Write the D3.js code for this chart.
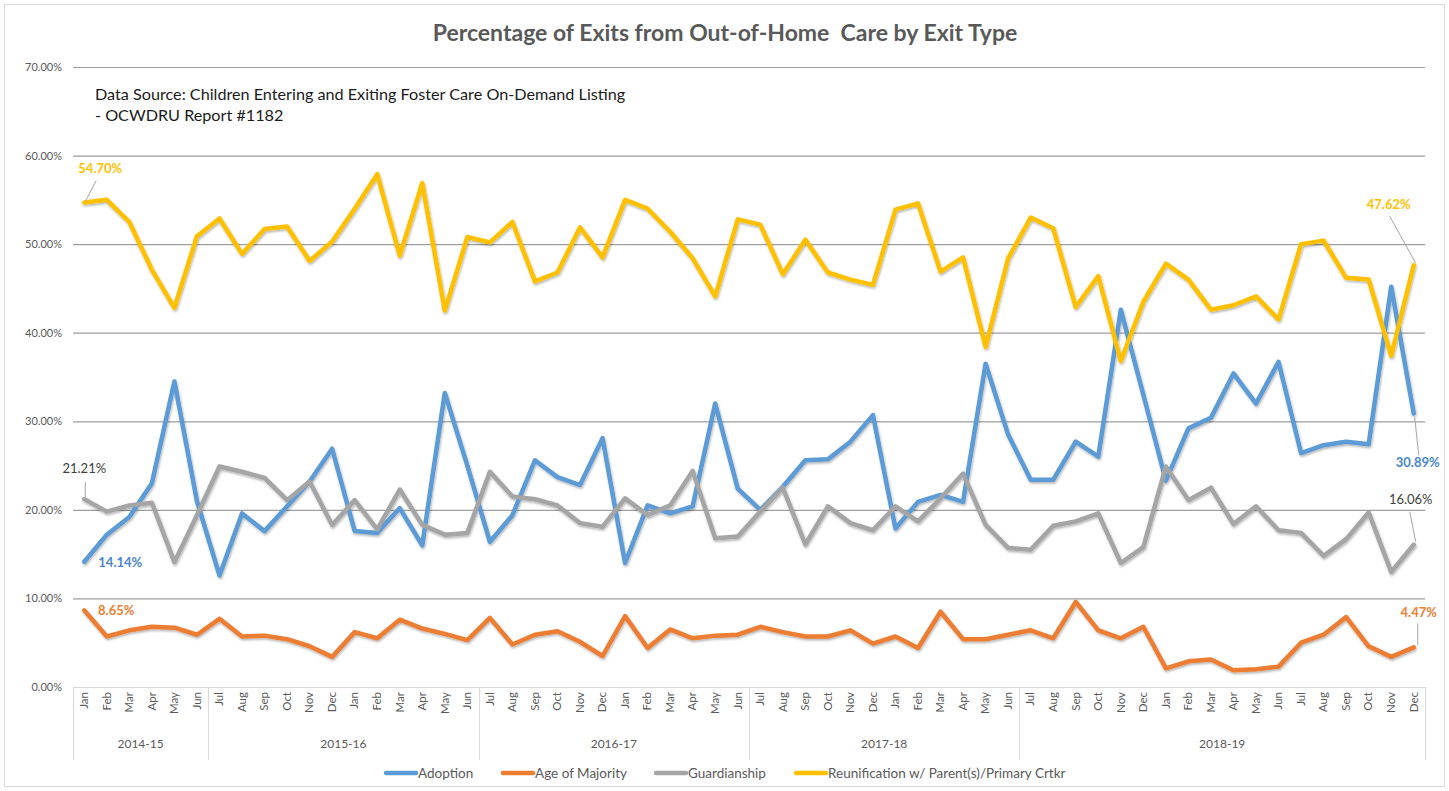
<!DOCTYPE html>
<html>
<head>
<meta charset="utf-8">
<script src="https://cdn.jsdelivr.net/npm/d3@7"></script>
<style>
  html, body { margin: 0; padding: 0; background: #fff; }
  svg { display: block; font-family: Lato, "Open Sans", "Liberation Sans", sans-serif; }
</style>
</head>
<body>
<svg id="chart" width="1449" height="791"></svg>
<script>
// Monthly exits from out-of-home care, Jan 2015 – Dec 2019, by exit type (%)
const months = [
  "Jan","Feb","Mar","Apr","May","Jun",
  "Jul","Aug","Sep","Oct","Nov","Dec","Jan","Feb","Mar","Apr","May","Jun",
  "Jul","Aug","Sep","Oct","Nov","Dec","Jan","Feb","Mar","Apr","May","Jun",
  "Jul","Aug","Sep","Oct","Nov","Dec","Jan","Feb","Mar","Apr","May","Jun",
  "Jul","Aug","Sep","Oct","Nov","Dec","Jan","Feb","Mar","Apr","May","Jun",
  "Jul","Aug","Sep","Oct","Nov","Dec"
];
const fiscalYears = ["2014-15","2015-16","2016-17","2017-18","2018-19"];
const monthsPerYear = [6, 12, 12, 12, 18];

const seriesNames = ["Adoption","Age of Majority","Guardianship","Reunification w/ Parent(s)/Primary Crtkr"];

const adoption = [
  14.14,17.2,19.2,23.0,34.5,21.0,
  12.6,19.6,17.6,20.4,23.2,26.9,17.6,17.4,20.2,16.0,33.2,25.0,
  16.4,19.4,25.6,23.7,22.8,28.1,14.0,20.5,19.6,20.4,32.0,22.4,
  20.0,22.6,25.6,25.7,27.7,30.7,17.9,20.9,21.7,20.9,36.5,28.5,
  23.4,23.4,27.7,26.0,42.6,33.0,23.3,29.2,30.4,35.4,32.0,36.7,
  26.4,27.3,27.7,27.4,45.2,30.89
];
const ageOfMajority = [
  8.65,5.7,6.4,6.8,6.7,5.9,
  7.7,5.7,5.8,5.4,4.6,3.4,6.2,5.5,7.6,6.6,6.0,5.3,
  7.8,4.8,5.9,6.3,5.1,3.5,8.0,4.4,6.5,5.5,5.8,5.9,
  6.8,6.2,5.7,5.7,6.4,4.9,5.7,4.4,8.5,5.4,5.4,5.9,
  6.4,5.5,9.6,6.4,5.5,6.8,2.1,2.9,3.1,1.9,2.0,2.3,
  5.0,5.9,7.9,4.6,3.4,4.47
];
const guardianship = [
  21.21,19.8,20.5,20.8,14.1,19.4,
  24.9,24.3,23.6,21.1,23.2,18.3,21.1,17.8,22.3,18.3,17.2,17.4,
  24.3,21.5,21.2,20.5,18.5,18.1,21.3,19.4,20.5,24.4,16.8,17.0,
  19.8,22.5,16.1,20.4,18.5,17.7,20.4,18.7,21.3,24.1,18.3,15.7,
  15.5,18.2,18.7,19.6,14.0,15.8,24.9,21.1,22.5,18.4,20.4,17.7,
  17.4,14.8,16.7,19.7,13.0,16.06
];
const reunification = [
  54.70,55.0,52.5,47.1,42.8,50.9,
  52.9,48.9,51.7,52.0,48.1,50.3,54.0,57.9,48.7,56.9,42.5,50.8,
  50.2,52.5,45.8,46.8,51.9,48.5,55.0,54.0,51.4,48.4,44.1,52.8,
  52.2,46.6,50.5,46.8,46.0,45.4,53.9,54.6,46.9,48.5,38.4,48.4,
  53.0,51.8,42.9,46.4,36.8,43.5,47.8,46.0,42.6,43.1,44.1,41.5,
  50.0,50.4,46.2,46.0,37.4,47.62
];
const yTicks = [0,10,20,30,40,50,60,70];

const colors = ["#5B9BD5","#ED7D31","#A5A5A5","#FFC000"];
const labelColors = ["#4A86C8","#ED7D31","#404040","#FFC000"];

const svg = d3.select("#chart");
const W = 1449, H = 791;
const plot = { left: 73, right: 1425, top: 67, bottom: 687 };

// outer chart frame
svg.append("rect")
  .attr("x", 4.5).attr("y", 4.5).attr("width", W - 9).attr("height", H - 9)
  .attr("fill", "#fff").attr("stroke", "#D9D9D9").attr("stroke-width", 1);

const defs = svg.append("defs");
defs.append("filter").attr("id", "lineShadow")
  .attr("x", "-5%").attr("y", "-5%").attr("width", "110%").attr("height", "110%")
  .append("feDropShadow")
  .attr("dx", 0.8).attr("dy", 1.6).attr("stdDeviation", 1.2)
  .attr("flood-color", "#000").attr("flood-opacity", 0.3);

const idx = d3.range(months.length);
const x = d3.scaleBand().domain(idx).range([plot.left, plot.right]).padding(0);
const cx = i => x(i) + x.bandwidth() / 2;
const y = d3.scaleLinear().domain([0, 70]).range([plot.bottom, plot.top]);

// title
svg.append("text")
  .attr("x", 725).attr("y", 41)
  .attr("text-anchor", "middle")
  .attr("font-size", 23).attr("font-weight", 700).attr("fill", "#595959")
  .attr("xml:space", "preserve")
  .text("Percentage of Exits from Out-of-Home  Care by Exit Type");

// horizontal gridlines + y tick labels
const yAxis = d3.axisLeft(y).tickValues(yTicks)
  .tickFormat(d => d3.format(".2f")(d) + "%")
  .tickSize(-(plot.right - plot.left)).tickPadding(11);
const yg = svg.append("g").attr("transform", `translate(${plot.left},0)`).call(yAxis);
yg.select(".domain").remove();
yg.selectAll(".tick line").attr("stroke", "#9E9E9E").attr("stroke-width", 1.2);
yg.selectAll(".tick text").attr("fill", "#595959").attr("font-size", 11)
  .attr("font-family", "Lato, 'Open Sans', sans-serif");

// data source note
const note = svg.append("g").attr("fill", "#1a1a1a").attr("font-size", 16.2);
note.append("text").attr("x", 95).attr("y", 100)
  .text("Data Source: Children Entering and Exiting Foster Care On-Demand Listing");
note.append("text").attr("x", 95).attr("y", 121).text("- OCWDRU Report #1182");

// category axis: months (rotated) and fiscal-year groups
const xAxis = d3.axisBottom(x).tickFormat(i => months[i]).tickSize(0).tickPadding(0);
const xg = svg.append("g").attr("transform", `translate(0,${plot.bottom})`).call(xAxis);
xg.select(".domain").remove();
xg.selectAll(".tick text")
  .attr("transform", "rotate(-90)")
  .attr("text-anchor", "end")
  .attr("dx", "-5").attr("dy", "0.33em")
  .attr("x", 0).attr("y", 0)
  .attr("fill", "#595959").attr("font-size", 11.5)
  .attr("font-family", "Lato, 'Open Sans', sans-serif");

const axisFrame = svg.append("g").attr("stroke", "#D9D9D9").attr("stroke-width", 1);
axisFrame.append("line")
  .attr("x1", plot.left).attr("x2", plot.right)
  .attr("y1", plot.bottom + 0.5).attr("y2", plot.bottom + 0.5);

let start = 0;
const groupBounds = [start];
monthsPerYear.forEach(n => { start += n; groupBounds.push(start); });
groupBounds.forEach(b => {
  const gx = b < months.length ? x(b) : plot.right;
  axisFrame.append("line")
    .attr("x1", Math.round(gx) + 0.5).attr("x2", Math.round(gx) + 0.5)
    .attr("y1", plot.bottom).attr("y2", 760);
});
fiscalYears.forEach((fy, k) => {
  const a = groupBounds[k], b = groupBounds[k + 1];
  const mid = (x(a) + (b < months.length ? x(b) : plot.right)) / 2;
  svg.append("text")
    .attr("x", mid).attr("y", 748)
    .attr("text-anchor", "middle")
    .attr("fill", "#595959").attr("font-size", 12)
    .text(fy);
});

// series lines
const allSeries = [adoption, ageOfMajority, guardianship, reunification];
const line = d3.line().x((d, i) => cx(i)).y(d => y(d));
const linesG = svg.append("g").attr("filter", "url(#lineShadow)");
allSeries.forEach((vals, s) => {
  linesG.append("path")
    .datum(vals)
    .attr("d", line)
    .attr("fill", "none")
    .attr("stroke", colors[s])
    .attr("stroke-width", 4.5)
    .attr("stroke-linejoin", "round")
    .attr("stroke-linecap", "round");
});

// end-point data labels
const fmt = d => d3.format(".2f")(d) + "%";
const last = months.length - 1;
const endLabels = [
  { s: 3, i: 0,    dx: 16, dy: -33, bold: true,  leader: [[12, -22], [1, -1]] },
  { s: 2, i: 0,    dx: 0,  dy: -29, bold: false, leader: [[1, -17], [1, -2]] },
  { s: 0, i: 0,    dx: 36, dy: 2,   bold: true,  leader: null },
  { s: 1, i: 0,    dx: 32, dy: 1,   bold: true,  leader: null },
  { s: 3, i: last, dx: -25, dy: -60, bold: true, leader: [[-24, -49], [2, -2]] },
  { s: 0, i: last, dx: 4,  dy: 50,  bold: true,  leader: [[1, 4], [5, 42]] },
  { s: 2, i: last, dx: -3, dy: -44, bold: false, leader: [[-4, -33], [2, -3]] },
  { s: 1, i: last, dx: 5,  dy: -34, bold: true,  leader: [[4, -24], [4, -2]] }
];
const labelsG = svg.append("g");
endLabels.forEach(l => {
  const vals = allSeries[l.s];
  const px = cx(l.i), py = y(vals[l.i]);
  if (l.leader) {
    labelsG.append("line")
      .attr("x1", px + l.leader[0][0]).attr("y1", py + l.leader[0][1])
      .attr("x2", px + l.leader[1][0]).attr("y2", py + l.leader[1][1])
      .attr("stroke", "#A6A6A6").attr("stroke-width", 1);
  }
  labelsG.append("text")
    .attr("x", px + l.dx).attr("y", py + l.dy)
    .attr("text-anchor", "middle").attr("dominant-baseline", "middle")
    .attr("font-size", 13).attr("font-weight", l.bold ? 700 : 400)
    .attr("fill", labelColors[l.s])
    .text(fmt(vals[l.i]));
});

// legend
const legendX = [386, 503, 656, 796];
const legend = svg.append("g").attr("transform", "translate(0,773)");
seriesNames.forEach((name, s) => {
  const g = legend.append("g").attr("transform", `translate(${legendX[s]},0)`);
  g.append("line").attr("x1", 0).attr("x2", 30).attr("y1", 0).attr("y2", 0)
    .attr("stroke", colors[s]).attr("stroke-width", 4.5).attr("stroke-linecap", "round");
  g.append("text").attr("x", 32).attr("y", 0).attr("dy", "0.35em")
    .attr("font-size", 13.5).attr("fill", "#595959").text(name);
});
</script>
</body>
</html>
